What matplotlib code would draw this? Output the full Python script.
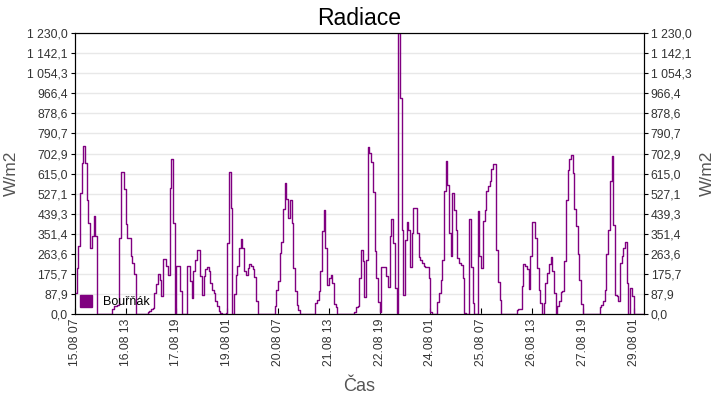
import numpy as np
import pandas as pd
import matplotlib
matplotlib.use('Agg')
import matplotlib.pyplot as plt
from matplotlib.lines import Line2D

plt.rcParams['font.family'] = ['Liberation Sans', 'DejaVu Sans']

#%% data  (hourly values, W/m2, from 15.08 07:00)

start = '2019-08-15 07:00'
radiace = [
    90, 200, 300, 530, 660, 735, 660, 500, 400, 290, 340, 430, 340, 0, 0, 0, 0, 0, 0, 0, 0, 0, 20, 35,
    35, 40, 334, 620, 620, 546, 393, 334, 334, 253, 224, 175, 0, 0, 0, 0, 0, 0, 0, 10, 15, 20, 25, 90,
    130, 175, 150, 80, 242, 242, 209, 173, 554, 681, 400, 0, 212, 212, 100, 0, 0, 0, 212, 212, 144, 70, 190, 235,
    280, 280, 165, 85, 165, 195, 205, 190, 135, 105, 90, 56, 34, 12, 5, 0, 0, 5, 312, 620, 466, 0, 89, 173,
    209, 290, 327, 290, 188, 170, 200, 221, 209, 195, 160, 56, 0, 0, 0, 0, 0, 0, 0, 0, 0, 0, 34, 104,
    144, 268, 315, 461, 573, 505, 422, 498, 397, 202, 100, 41, 19, 0, 0, 0, 0, 0, 0, 0, 0, 0, 48, 63,
    100, 188, 363, 454, 290, 129, 158, 173, 136, 45, 31, 0, 0, 0, 0, 0, 0, 0, 0, 0, 0, 10, 32, 35,
    157, 281, 230, 76, 237, 732, 706, 667, 535, 274, 157, 54, 10, 208, 208, 208, 167, 120, 340, 416, 310, 113, 6, 1230,
    948, 369, 83, 325, 401, 369, 208, 354, 464, 464, 354, 248, 237, 223, 212, 208, 208, 157, 10, 0, 0, 0, 54, 91,
    149, 237, 538, 670, 567, 354, 252, 530, 457, 369, 245, 223, 215, 157, 6, 0, 0, 416, 208, 47, 0, 0, 450, 252,
    200, 406, 457, 538, 560, 582, 633, 655, 655, 281, 140, 60, 0, 0, 0, 0, 0, 0, 0, 0, 0, 16, 23, 23,
    122, 220, 209, 195, 110, 253, 404, 404, 334, 202, 107, 48, 0, 48, 136, 180, 217, 250, 188, 92, 0, 34, 56, 95,
    100, 231, 498, 630, 678, 696, 617, 461, 385, 265, 148, 45, 0, 0, 0, 0, 0, 0, 0, 0, 0, 0, 31, 41,
    56, 107, 261, 366, 583, 690, 388, 85, 78, 56, 224, 253, 290, 316, 136, 0, 114, 78, 0, 0, 0, 0, 0, 0,
]
tick_labels = ['15.08 07', '16.08 13', '17.08 19', '19.08 01', '20.08 07', '21.08 13',
               '22.08 19', '24.08 01', '25.08 07', '26.08 13', '27.08 19', '29.08 01']
y_max = 1230.0
series_name = 'Bouřňák'

#%% plot

purple = '#800080'
times = pd.date_range(start, periods=len(radiace) + 1, freq='h')
vals = radiace + [radiace[-1]]
tick_pos = pd.to_datetime(['2019 ' + s for s in tick_labels], format='%Y %d.%m %H')
yt = np.linspace(0, y_max, 15)
ylab = [f'{v:,.1f}'.replace(',', ' ').replace('.', ',') for v in yt]

fig, ax = plt.subplots(figsize=(7.2, 4), dpi=100)
fig.subplots_adjust(left=0.104, right=0.894, top=0.917, bottom=0.215)

ax.step(times, vals, where='post', color=purple, lw=1, zorder=3)
ax.set_xlim(times[0], times[-1])
ax.set_ylim(0, y_max)
ax.set_yticks(yt)
ax.set_yticklabels(ylab)
ax.set_xticks(tick_pos)
ax.set_xticklabels(tick_labels, rotation=90)
ax.grid(axis='y', color='#e8e8e8', lw=1)
ax.set_axisbelow(True)

ax2 = ax.twinx()
ax2.set_ylim(0, y_max)
ax2.set_yticks(yt)
ax2.set_yticklabels(ylab)

for a in (ax, ax2):
    a.tick_params(axis='y', direction='out', length=3, pad=2, labelsize=8.7, labelcolor='#333333')
    for s in a.spines.values():
        s.set_color('black')
ax.tick_params(axis='x', direction='in', length=4, labelsize=8.7, labelcolor='#333333')

ax.set_title('Radiace', fontsize=16.5, pad=6)
ax.set_ylabel('W/m2', fontsize=12.5, color='#555555', labelpad=6)
ax2.set_ylabel('W/m2', fontsize=12.5, color='#555555', labelpad=6)
ax.set_xlabel('Čas', fontsize=13, color='#555555', labelpad=8)

h = Line2D([], [], ls='none', marker='s', markersize=9, color=purple)
ax.legend([h], [series_name], loc='lower left', frameon=False, fontsize=9,
          handlelength=0.9, handletextpad=0.9, borderaxespad=0.1, borderpad=0.35)

plt.savefig('out.png', dpi=100)
